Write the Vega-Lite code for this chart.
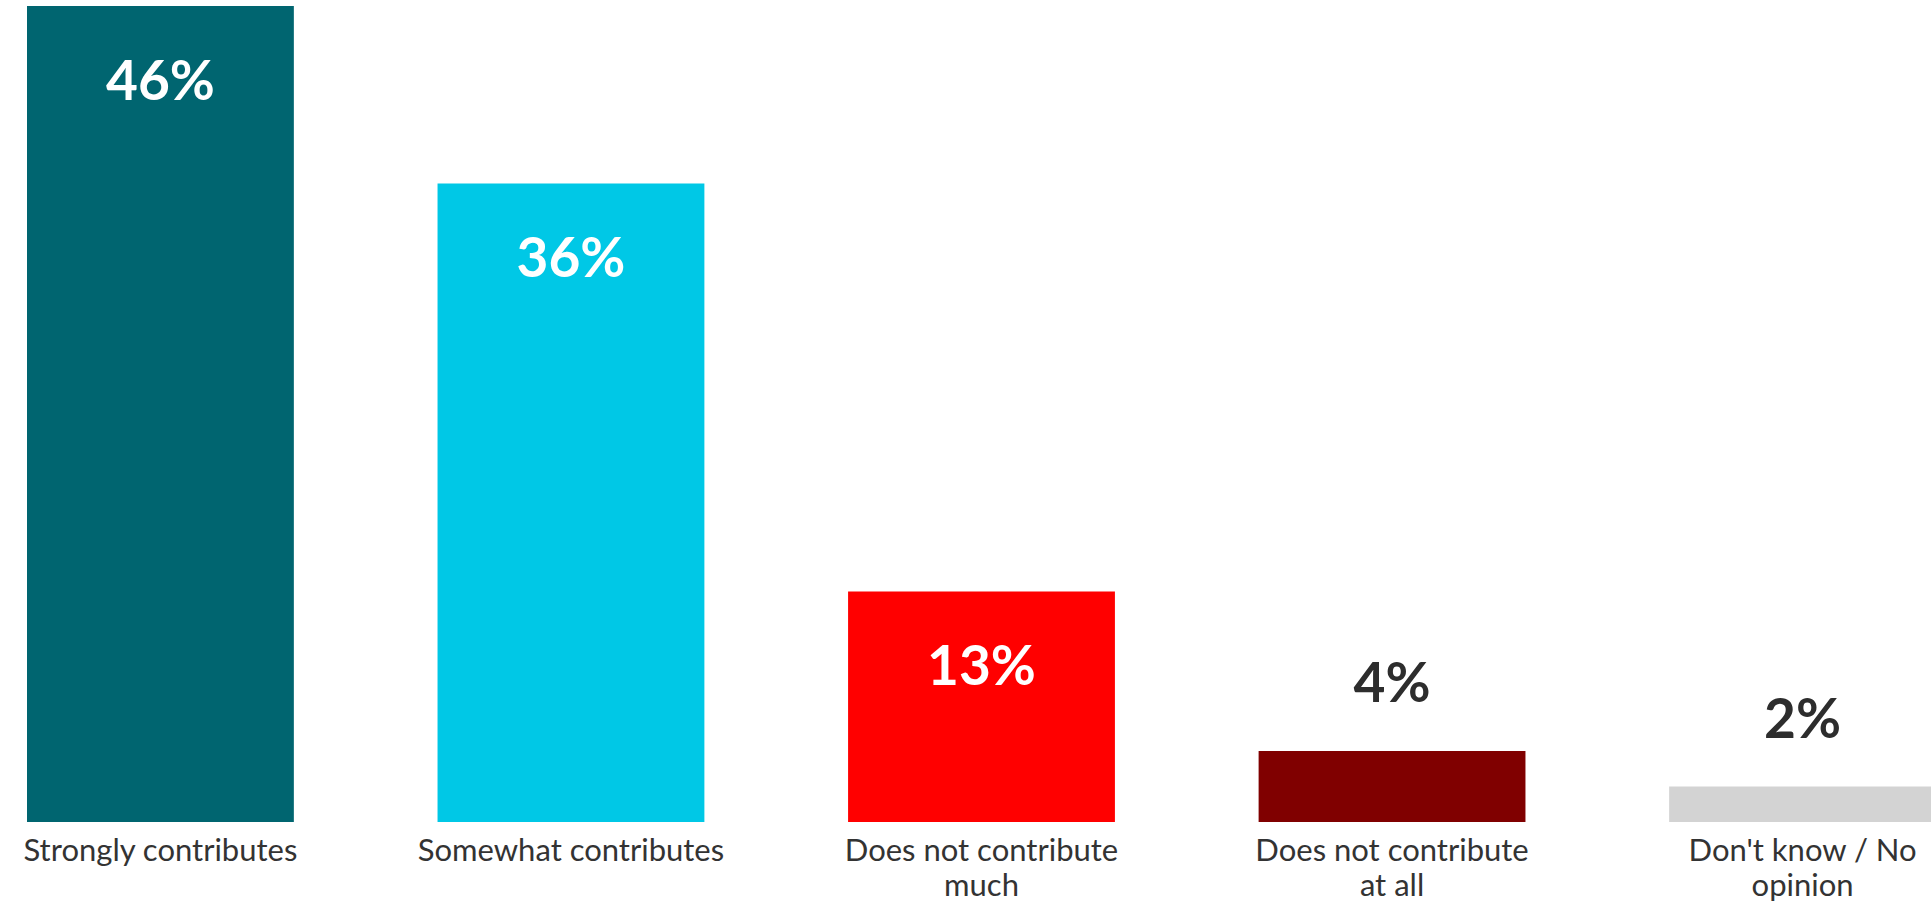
{
  "$schema": "https://vega.github.io/schema/vega-lite/v6.json",
  "autosize": "none",
  "width": 1904,
  "height": 816,
  "padding": {"left": 27, "top": 6, "right": 0, "bottom": 80},
  "background": "white",
  "config": {"view": {"stroke": null}, "font": "Lato"},
  "data": {"values": [
    {"category": "Strongly contributes", "value": 46, "label": "46%"},
    {"category": "Somewhat contributes", "value": 36, "label": "36%"},
    {"category": "Does not contribute\nmuch", "value": 13, "label": "13%"},
    {"category": "Does not contribute\nat all", "value": 4, "label": "4%"},
    {"category": "Don't know / No\nopinion", "value": 2, "label": "2%"}
  ]},
  "encoding": {
    "x": {
      "field": "category", "type": "nominal", "sort": null,
      "scale": {"paddingInner": 0.35, "paddingOuter": 0, "range": [0, 1909]},
      "axis": {
        "title": null, "domain": false, "ticks": false, "labelAngle": 0,
        "labelFont": "Lato", "labelFontSize": 31, "labelColor": "#333333",
        "labelPadding": 14, "labelLineHeight": 35,
        "labelExpr": "split(datum.label, '\\n')", "labelLimit": 0
      }
    },
    "y": {
      "field": "value", "type": "quantitative",
      "scale": {"domain": [0, 46], "nice": false, "zero": true},
      "axis": null
    }
  },
  "layer": [
    {
      "mark": {"type": "bar", "clip": false},
      "encoding": {
        "color": {
          "field": "category", "type": "nominal", "sort": null, "legend": null,
          "scale": {"range": ["#006570", "#00C8E6", "#FF0000", "#800000", "#D3D3D3"]}
        }
      }
    },
    {
      "transform": [{"filter": "datum.value >= 10"}],
      "mark": {"type": "text", "font": "Lato", "fontWeight": "bold", "fontSize": 55, "color": "white", "baseline": "alphabetic", "dy": 94, "align": "center"},
      "encoding": {"text": {"field": "label"}}
    },
    {
      "transform": [{"filter": "datum.value < 10"}],
      "mark": {"type": "text", "font": "Lato", "fontWeight": "bold", "fontSize": 55, "color": "#2d2d2d", "baseline": "alphabetic", "dy": -49, "align": "center"},
      "encoding": {"text": {"field": "label"}}
    }
  ]
}
